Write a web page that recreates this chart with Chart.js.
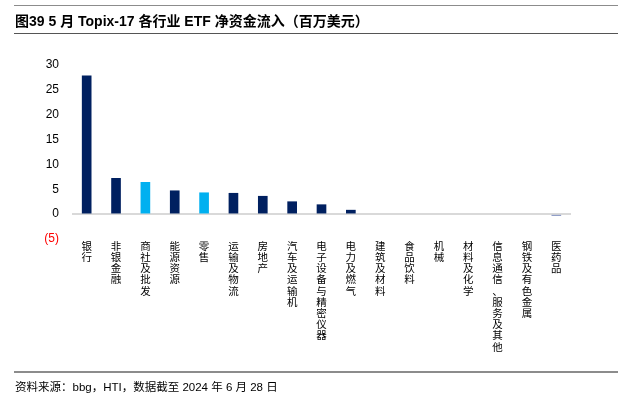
<!DOCTYPE html>
<html><head><meta charset="utf-8">
<script src="https://cdn.jsdelivr.net/npm/chart.js@4"></script>
<style>
html,body{margin:0;padding:0;background:#fff;}
#wrap{position:relative;width:618px;height:406px;overflow:hidden;}
#c{position:absolute;left:0;top:0;}
.line{position:absolute;left:14px;right:0;}
#title{position:absolute;left:15px;top:10px;font:bold 14px "Liberation Sans","Noto Sans CJK SC",sans-serif;color:#000;white-space:nowrap;}
#foot{position:absolute;left:15px;top:378px;font:11.5px "Liberation Sans","Noto Sans CJK SC",sans-serif;color:#000;white-space:nowrap;}
</style></head>
<body><div id="wrap">
<canvas id="c" width="618" height="406"></canvas>
<div class="line" style="top:5px;height:1px;background:#8c8c8c;"></div>
<div id="title">图39 5 月 Topix-17 各行业 ETF 净资金流入（百万美元）</div>
<div class="line" style="top:33px;height:1px;background:#555;"></div>
<div class="line" style="top:371px;height:2px;background:#8c8c8c;"></div>
<div id="foot">资料来源：bbg，HTI，数据截至 2024 年 6 月 28 日</div>
</div>
<script>
const categories = ["银行","非银金融","商社及批发","能源资源","零售","运输及物流","房地产","汽车及运输机","电子设备与精密仪器","电力及燃气","建筑及材料","食品饮料","机械","材料及化学","信息通信、服务及其他","钢铁及有色金属","医药品"];
const flows = [27.8, 7.2, 6.4, 4.7, 4.3, 4.2, 3.6, 2.5, 1.9, 0.8, 0, 0, 0, 0, 0, 0, -0.3];
const barColors = ["#002060","#002060","#00B0F0","#002060","#00B0F0","#002060","#002060","#002060","#002060","#002060","#002060","#002060","#002060","#002060","#002060","#002060","#8E9CC6"];
const yMin = -5, yMax = 30, yStep = 5;

new Chart(document.getElementById('c'), {
  type: 'bar',
  data: {
    labels: categories.map(s => Array.from(s)),
    datasets: [{ data: flows, barThickness: 9,
      backgroundColor: ctx => ctx.raw === 0 ? 'rgba(0,0,0,0)' : barColors[ctx.dataIndex] }]
  },
  options: {
    responsive: false,
    animation: false,
    layout: { padding: { left: 0, right: 47, top: 65, bottom: 0 } },
    plugins: { legend: { display: false }, tooltip: { enabled: false } },
    scales: {
      x: {
        grid: { display: false, drawTicks: false },
        border: { display: false },
        ticks: { autoSkip: false, maxRotation: 0, minRotation: 0, padding: 1, color: '#000',
          font: { family: '"Noto Sans CJK SC"', size: 10.5, lineHeight: 1.07 } },
        afterFit: s => { s.height = 167; }
      },
      y: {
        min: yMin, max: yMax,
        border: { display: false },
        grid: { drawTicks: false, color: c => c.tick && c.tick.value === 0 ? '#d9d9d9' : 'rgba(0,0,0,0)', lineWidth: 2 },
        ticks: { stepSize: yStep, padding: 13,
          color: c => c.tick.value < 0 ? '#ff0000' : '#000',
          font: { family: '"Liberation Sans"', size: 12 },
          callback: v => v < 0 ? '(' + Math.abs(v) + ')' : String(v) },
        afterFit: s => { s.width = 72; }
      }
    }
  }
});
</script>
</body></html>
